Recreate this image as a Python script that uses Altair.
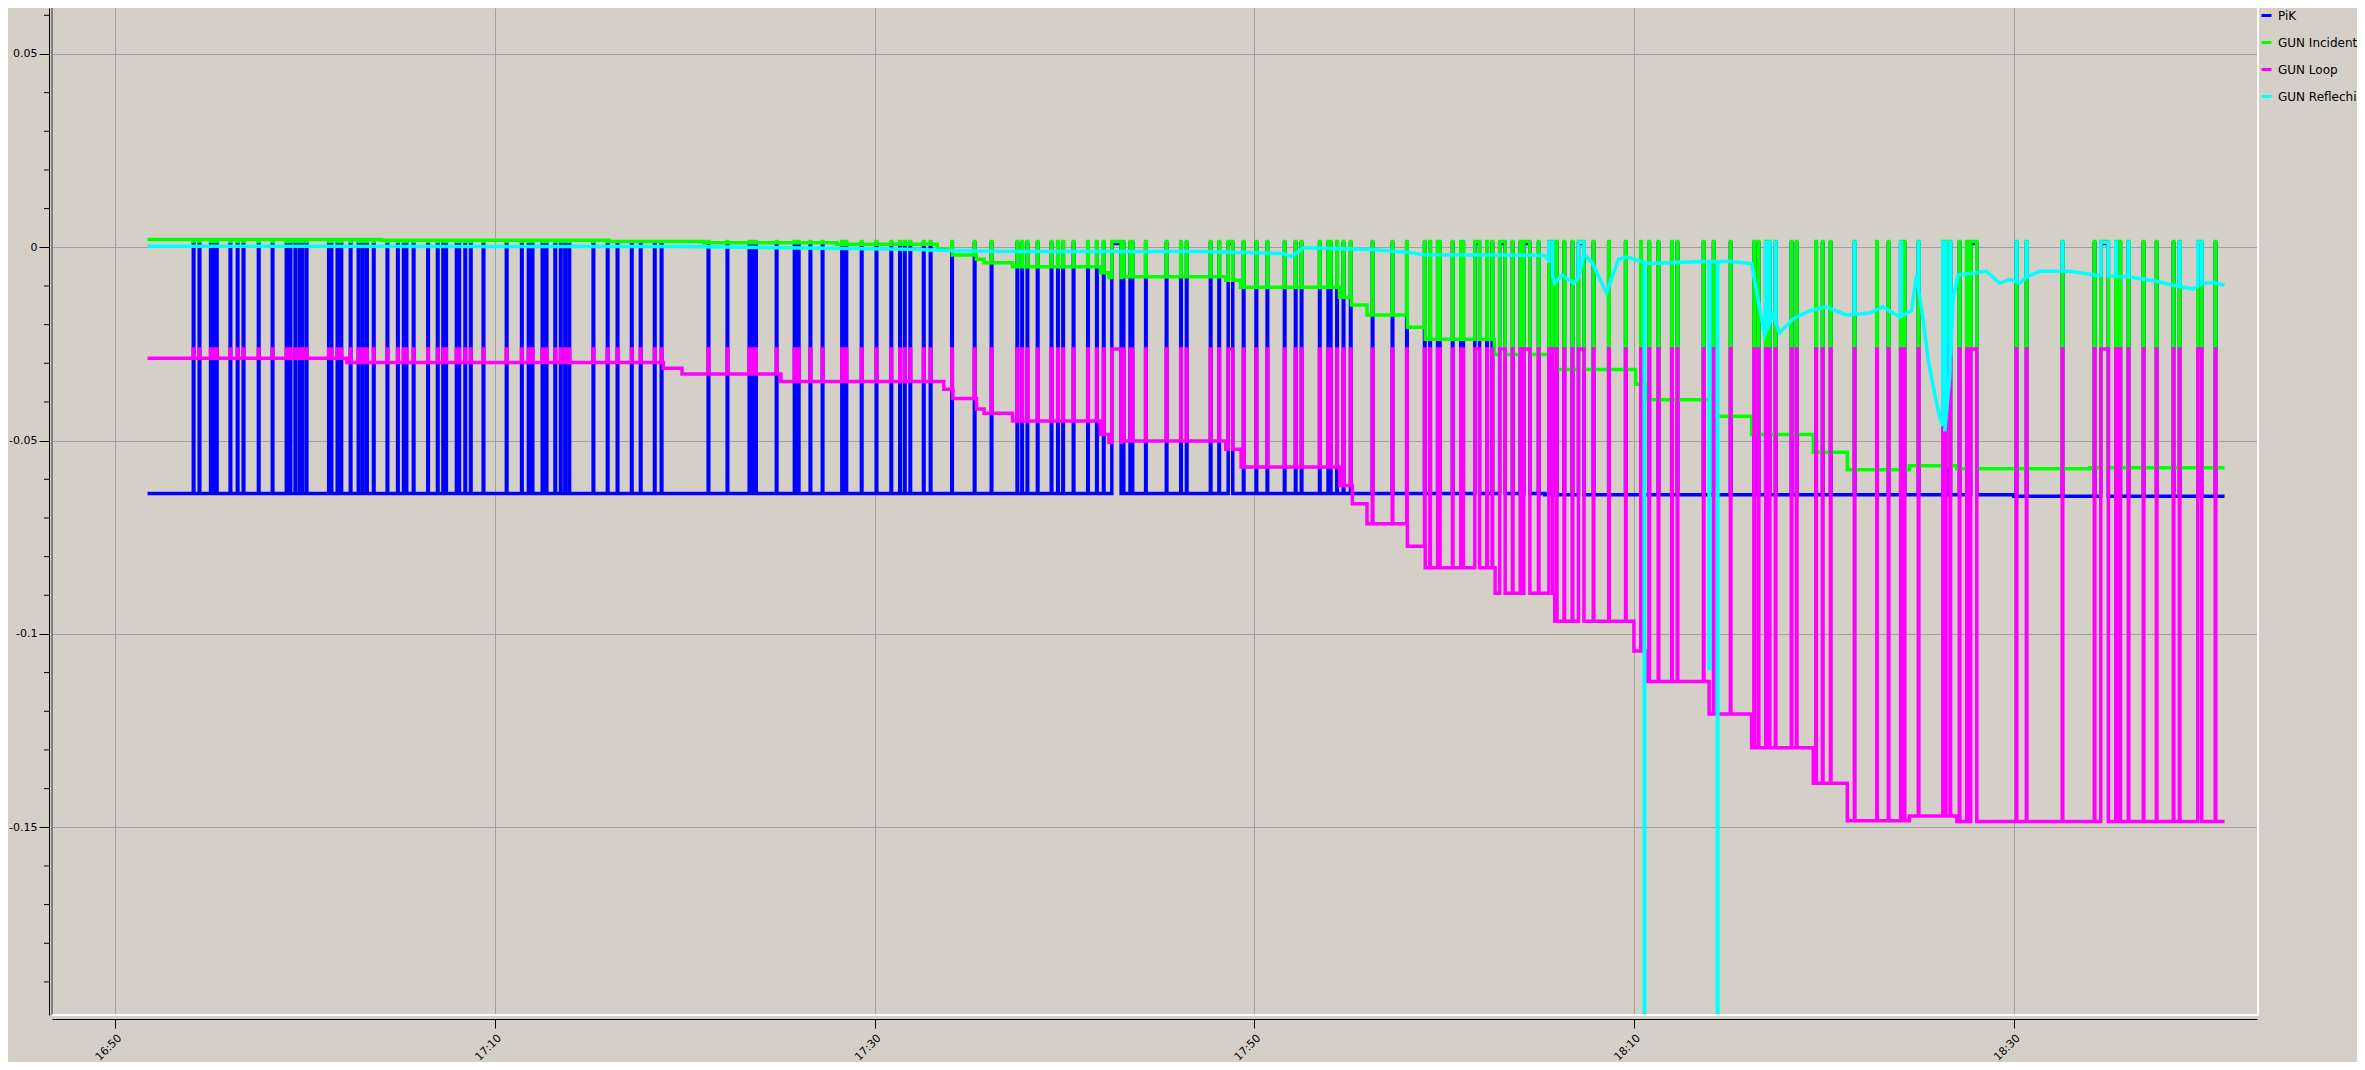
import altair as alt
import pandas as pd
import numpy as np

# ---------------- data ----------------
SERIES = ["PiK", "GUN Incident", "GUN Loop", "GUN Reflechi"]
COLORS = ["#0000ff", "#00ff00", "#ff00ff", "#00ffff"]

X_TICK_LABELS = ["16:50", "17:10", "17:30", "17:50", "18:10", "18:30"]
Y_MAJOR = [-0.15, -0.1, -0.05, 0.0, 0.05]
Y_MINOR = [-0.19, -0.18, -0.17, -0.16, -0.14, -0.13, -0.12, -0.11, -0.09, -0.08,
           -0.07, -0.06, -0.04, -0.03, -0.02, -0.01, 0.01, 0.02, 0.03, 0.04, 0.06]

# times are minutes after 16:50
T_FIRST, T_LAST = 1.7, 111.1

# beam trip events (all channels jump together)
SPIKE_T = [4.11, 4.42, 5.02, 5.20, 5.33, 6.05, 6.43, 6.74, 7.54, 8.27, 9.01, 9.21, 9.47,
           9.70, 9.83, 10.06, 11.24, 11.37, 11.69, 11.89, 12.38, 12.80, 13.02, 13.24, 13.60,
           14.32, 14.87, 15.18, 15.32, 15.70, 16.46, 16.97, 17.26, 17.41, 17.97, 18.10, 18.42,
           18.71, 19.38, 20.60, 21.40, 21.76, 21.96, 22.49, 22.70, 23.16, 23.45, 23.68, 23.90,
           25.17, 25.92, 26.44, 27.19, 27.66, 28.40, 28.76,
           31.23, 32.23, 33.39, 33.59, 33.73, 34.82, 35.77, 35.98, 36.60, 37.24, 38.27, 38.38,
           38.49, 39.30, 40.08, 40.86, 41.32, 41.57, 41.86, 42.57, 42.93, 44.06, 45.25, 46.14,
           47.50, 47.75, 48.03, 48.57, 49.30, 49.64, 49.91, 50.46, 51.22, 51.69, 52.05, 53.09,
           53.45, 53.56, 54.27, 55.36, 56.12, 56.42,
           57.68, 58.13, 59.42, 60.09, 60.67, 61.58, 62.16, 62.47, 63.43, 64.34, 64.68, 65.06,
           66.21, 67.26, 68.02, 68.96, 69.24, 70.43, 72.24, 72.52, 73.59, 74.00, 74.96, 75.91,
           76.31, 76.74, 77.85, 78.66, 79.55, 80.35, 80.78, 81.27, 81.98, 82.27, 83.65, 84.18,
           85.07, 86.31, 86.54, 86.93, 87.12, 87.44, 88.28, 88.55, 89.57, 89.92, 90.34, 91.60,
           92.78, 93.39, 94.04, 94.23, 94.97, 96.64, 97.13, 97.52, 100.13, 100.66, 102.55,
           104.24, 105.37, 105.59, 106.03, 106.82, 107.51, 108.40, 108.72, 110.61]
BURST_START = [52.49, 58.62, 63.88, 69.65, 70.87, 71.61, 72.92, 74.19, 75.51, 77.07,
               96.26, 97.73, 104.58, 109.69]
BURST_END = [52.98, 58.86, 64.03, 69.78, 71.01, 71.86, 73.21, 74.51, 75.71, 77.36,
             96.43, 98.05, 104.98, 109.90]

# spike tops per channel
TOP_PIK, TOP_INC, TOP_LOOP, TOP_REF = 0.0010, 0.0015, -0.0263, 0.0013

# baseline levels (step changes)
PIK_T = [1.7, 75.3, 100.0]
PIK_V = [-0.0637, -0.0640, -0.0644]

INC_T = [1.7, 14.0, 26.0, 31.0, 38.0, 43.3, 44.1, 45.36, 45.76, 47.26, 51.89, 52.34, 53.0,
         58.49, 59.27, 64.48, 65.11, 65.93, 68.06, 69.0, 72.64, 75.82, 80.08, 80.72, 83.98,
         86.19, 89.44, 91.23, 94.5, 97.0, 104.0]
INC_V = [0.0020, 0.0018, 0.0015, 0.0012, 0.0008, -0.0005, -0.0020, -0.0031, -0.0040,
         -0.0050, -0.0066, -0.0078, -0.0076, -0.0085, -0.0103, -0.0129, -0.0149, -0.0175,
         -0.0207, -0.0238, -0.0277, -0.0316, -0.0354, -0.0394, -0.0437, -0.0484, -0.0530,
         -0.0575, -0.0565, -0.0573, -0.0570]

LOOP_T = [1.7, 12.2, 28.87, 29.85, 35.06, 43.64, 44.12, 45.36, 45.76, 47.26, 51.89, 52.34,
          53.0, 58.49, 59.3, 64.5, 65.16, 65.93, 68.06, 69.0, 72.68, 75.82, 79.99, 80.67,
          83.95, 86.19, 89.44, 91.23, 94.5, 97.0]
LOOP_V = [-0.0287, -0.0298, -0.0313, -0.0328, -0.0347, -0.0367, -0.0391, -0.0418, -0.0429,
          -0.0449, -0.0484, -0.0505, -0.0501, -0.0522, -0.0568, -0.0616, -0.0663, -0.0715,
          -0.0773, -0.0829, -0.0895, -0.0967, -0.1044, -0.1123, -0.1207, -0.1294, -0.1386,
          -0.1483, -0.1471, -0.1485]

# reflected power: a drifting curve
REF_T = [1.7, 29.7, 41.9, 43.7, 47.3, 57.13, 61.49, 61.94, 62.58, 66.21, 68.02, 68.93,
         75.28, 75.46, 75.82, 76.19, 76.82, 77.09, 77.36, 77.82, 78.54, 79.18, 79.63, 80.72,
         83.62, 85.04, 86.18, 86.88, 87.32, 87.67, 88.37, 89.25, 90.13, 91.18, 92.41, 93.11,
         93.99, 94.61, 94.87, 95.22, 95.48, 95.83, 96.10, 96.36, 96.62, 96.80, 97.06, 98.55,
         99.26, 99.78, 100.31, 100.66, 101.36, 102.94, 104.35, 106.10, 107.51, 108.39,
         109.44, 109.97, 110.50, 111.1]
REF_V = [0.0003, 0.0002, -0.0005, -0.0008, -0.0011, -0.0011, -0.0016, -0.0024, -0.0001,
         -0.0006, -0.0013, -0.0019, -0.0021, -0.0031, -0.0093, -0.0072, -0.0093, -0.0077,
         -0.0016, -0.0042, -0.0118, -0.0031, -0.0025, -0.0042, -0.0037, -0.0037, -0.0042,
         -0.0226, -0.0175, -0.0221, -0.0185, -0.0164, -0.0154, -0.0175, -0.0170, -0.0154,
         -0.0180, -0.0164, -0.0072, -0.0185, -0.0287, -0.0379, -0.0440, -0.0476, -0.0338,
         -0.0134, -0.0072, -0.0062, -0.0093, -0.0083, -0.0093, -0.0077, -0.0062, -0.0062,
         -0.0072, -0.0077, -0.0088, -0.0098, -0.0108, -0.0093, -0.0091, -0.0098]
REF_SPIKE_T = [86.93, 87.12, 87.44, 91.60, 94.04, 94.97, 96.64, 100.13, 100.66, 102.55,
               105.37, 106.03, 108.72]
REF_BURST_START = [75.51, 77.07, 96.26, 104.58, 109.69]
REF_BURST_END = [75.71, 77.36, 96.43, 104.98, 109.90]
REF_DROP_T = [80.53, 83.95, 84.38]
REF_DROP_V = [-0.25, -0.109, -0.25]

# ---------------- building the polylines ----------------
W_SPIKE = 0.03


def events_for(spk, b0, b1, top, drops_t=(), drops_v=()):
    ev = [(t, t + W_SPIKE, top) for t in spk]
    ev += [(a, b, top) for a, b in zip(b0, b1)]
    ev += [(t, t + W_SPIKE, v) for t, v in zip(drops_t, drops_v)]
    return ev


def step_series(lt, lv, ev):
    items = [(t, 1, v) for t, v in zip(lt[1:], lv[1:])] + [(a, 0, (b, v)) for a, b, v in ev]
    items.sort(key=lambda x: (x[0], x[1]))
    cur = lv[0]
    pts = [(T_FIRST, cur)]
    for t, kind, payload in items:
        if kind == 1:
            pts += [(t, cur), (t, payload)]
            cur = payload
        else:
            b, v = payload
            pts += [(t, cur), (t, v), (b, v), (b, cur)]
    pts.append((T_LAST, cur))
    return pts


def curve_series(ct, cv, ev):
    items = [(t, 1, v) for t, v in zip(ct, cv)] + [(a, 0, (b, v)) for a, b, v in ev]
    items.sort(key=lambda x: (x[0], x[1]))
    pts = []
    for t, kind, payload in items:
        if kind == 1:
            pts.append((t, payload))
        else:
            b, v = payload
            ba = float(np.interp(t, ct, cv))
            bb = float(np.interp(b, ct, cv))
            pts += [(t, ba), (t, v), (b, v), (b, bb)]
    return pts


all_pts = {
    "PiK": step_series(PIK_T, PIK_V, events_for(SPIKE_T, BURST_START, BURST_END, TOP_PIK)),
    "GUN Incident": step_series(INC_T, INC_V, events_for(SPIKE_T, BURST_START, BURST_END, TOP_INC)),
    "GUN Loop": step_series(LOOP_T, LOOP_V, events_for(SPIKE_T, BURST_START, BURST_END, TOP_LOOP)),
    "GUN Reflechi": curve_series(REF_T, REF_V, events_for(REF_SPIKE_T, REF_BURST_START, REF_BURST_END,
                                                          TOP_REF, REF_DROP_T, REF_DROP_V)),
}

BASE = pd.Timestamp("2024-01-01 16:50:00")


def iso(minutes):
    ts = BASE + pd.Timedelta(seconds=round(minutes * 60, 3))
    return ts.strftime("%Y-%m-%dT%H:%M:%S.%f")[:-3]


frames = {}
for name, pts in all_pts.items():
    frames[name] = pd.DataFrame({
        "series": name,
        "time": [iso(t) for t, _ in pts],
        "value": [v for _, v in pts],
        "i": list(range(len(pts))),
    })


def dt(label, sec=0, ms=0):
    h, m = label.split(":")
    return alt.DateTime(year=2024, month=1, date=1, hours=int(h), minutes=int(m),
                        seconds=sec, milliseconds=ms)


# ---------------- layout ----------------
W, H = 2205, 1007
FONT = "DejaVu Sans"
GRID = "#a0a0a0"

x_scale = alt.Scale(domain=[dt("16:46", 40), dt("18:42", 48, 600)])
y_scale = alt.Scale(domain=[-0.19855, 0.06189], nice=False, zero=False)

x_axis = alt.Axis(values=[dt(l) for l in X_TICK_LABELS], format="%H:%M", labelAngle=315,
                  labelAlign="right", labelBaseline="top", labelFont=FONT, labelFontSize=11,
                  labelColor="#000000", labelPadding=4, labelOverlap=False, tickColor="#000000",
                  tickSize=9, tickWidth=1, domainColor="#000000", domainWidth=1, offset=4,
                  grid=True, gridColor=GRID, gridWidth=1, title=None)
y_axis = alt.Axis(values=Y_MAJOR,
                  labelExpr="datum.value < 0 ? '-' + format(-datum.value, '~g') : format(datum.value, '~g')",
                  labelFont=FONT, labelFontSize=11, labelColor="#000000", labelPadding=2,
                  labelOverlap=False, tickColor="#000000", tickSize=10, tickWidth=1,
                  domainColor="#000000", domainWidth=1, offset=3, grid=True, gridColor=GRID,
                  gridWidth=1, title=None)

legend = alt.Legend(orient="none", legendX=2208, legendY=1, title=None, symbolType="stroke",
                    symbolSize=100, symbolStrokeWidth=3, labelFont=FONT, labelFontSize=12,
                    labelColor="#000000", rowPadding=14, padding=0, labelOffset=5)

color = alt.Color("series:N", scale=alt.Scale(domain=SERIES, range=COLORS), legend=legend)

layers = []
for name in SERIES:
    layers.append(
        alt.Chart(frames[name]).mark_line(strokeWidth=3.5, clip=True).encode(
            x=alt.X("time:T", scale=x_scale, axis=x_axis),
            y=alt.Y("value:Q", scale=y_scale, axis=y_axis),
            color=color,
            order=alt.Order("i:Q"),
        )
    )

one = pd.DataFrame({"k": [0]})
minor = alt.Chart(pd.DataFrame({"v": Y_MINOR})).mark_rule(color="#000000", strokeWidth=1).encode(
    y=alt.Y("v:Q", scale=y_scale, axis=y_axis), x=alt.value(-8), x2=alt.value(-3))
layers.append(minor)

frame_left = alt.Chart(one).mark_rule(color="#808080", strokeWidth=2).encode(
    x=alt.value(0), y=alt.value(0), y2=alt.value(H))
frame_bottom = alt.Chart(one).mark_rule(color="#ffffff", strokeWidth=2).encode(
    x=alt.value(0), x2=alt.value(W + 1), y=alt.value(H))
frame_right = alt.Chart(one).mark_rule(color="#ffffff", strokeWidth=2).encode(
    x=alt.value(W + 1), y=alt.value(0), y2=alt.value(H + 1))
layers += [frame_left, frame_bottom, frame_right]

chart = alt.layer(*layers).properties(
    width=W, height=H,
    autosize=alt.AutoSizeParams(type="none"),
    padding={"left": 44, "top": 0, "right": 100, "bottom": 47},
).configure(background="#d4d0c8", font=FONT).configure_view(stroke="transparent")

chart.save("out.html", embed_options={"renderer": "svg", "actions": False})
